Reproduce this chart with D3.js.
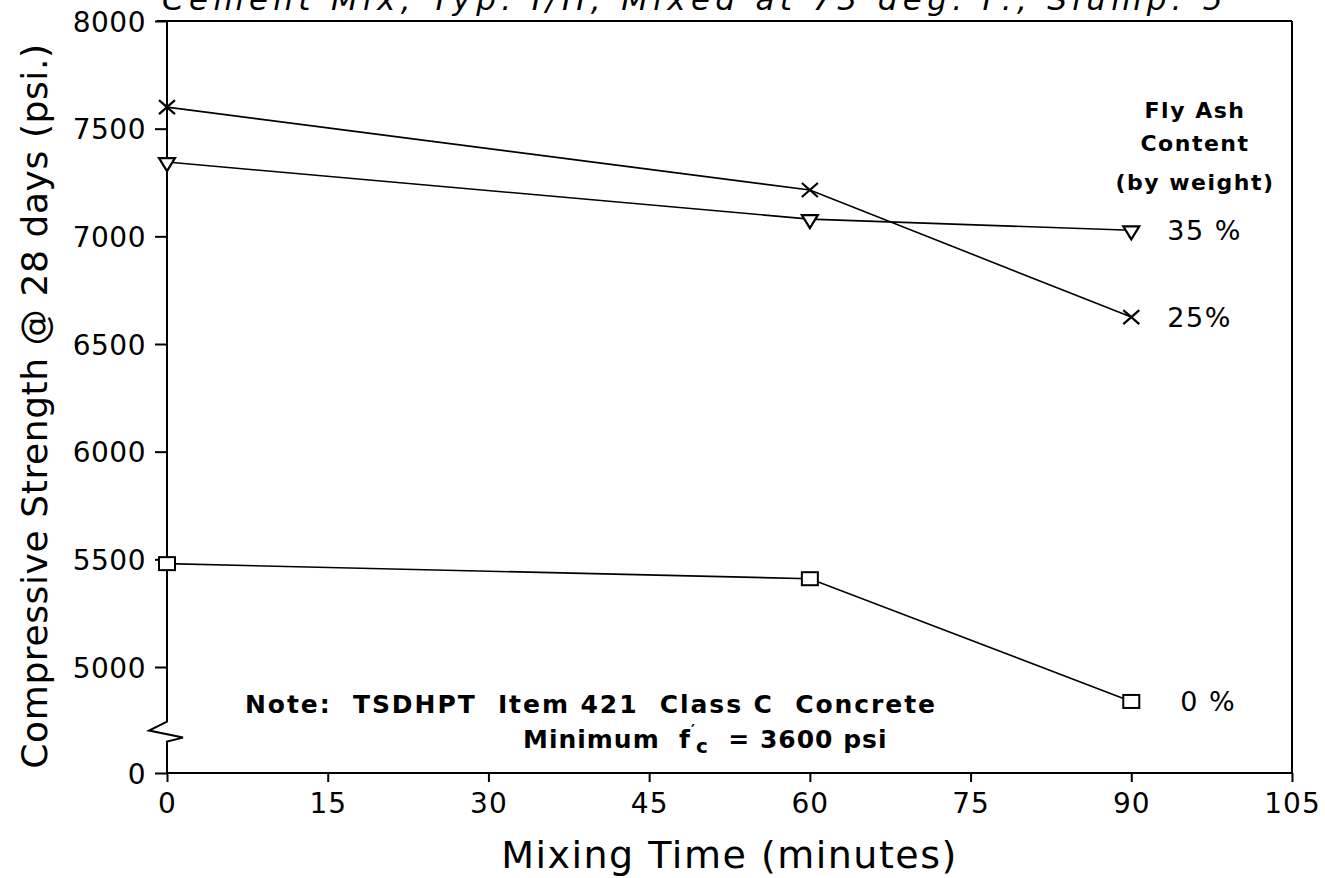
<!DOCTYPE html>
<html>
<head>
<meta charset="utf-8">
<script src="https://cdn.jsdelivr.net/npm/d3@7/dist/d3.min.js"></script>
<style>
  html, body { margin: 0; padding: 0; background: #fff; }
  svg { display: block; }
  text { font-family: "DejaVu Sans", sans-serif; fill: #000; }
</style>
</head>
<body>
<svg id="chart" width="1325" height="878"></svg>
<script>
// ---- data ----
const mixingTime = [0, 60, 90];
const ash0  = [5480, 5410, 4840];
const ash25 = [7600, 7215, 6625];
const ash35 = [7345, 7080, 7028];
const seriesNames = ["0 %", "25%", "35 %"];
const xTicks = [0, 15, 30, 45, 60, 75, 90, 105];
const yTicks = [0, 5000, 5500, 6000, 6500, 7000, 7500, 8000];
const titleText = "Cement Mix, Typ. I/II, Mixed at 73 deg. F., Slump: 5\"";
const xTitle = "Mixing Time (minutes)";
const yTitle = "Compressive Strength @ 28 days (psi.)";
const legendTitle = ["Fly Ash", "Content", "(by weight)"];
const noteLine1 = "Note:  TSDHPT  Item 421  Class C  Concrete";
const yBreak = 4700; // axis is broken between 0 and this value

const svg = d3.select("#chart");
const mLeft = 167, mRight = 1292, mTop = 21, mBottom = 773;

const x = d3.scaleLinear().domain([0, 105]).range([mLeft, mRight]);
const upper = d3.scaleLinear().domain([5000, 8000]).range([667, mTop]);
const y = d3.scaleLinear().domain([0, yBreak, 8000]).range([mBottom, upper(yBreak), mTop]);

// title (cut off at top)
svg.append("text").attr("x", 162).attr("y", 10)
  .attr("font-size", 31).attr("font-style", "italic")
  .attr("textLength", 1080).attr("lengthAdjust", "spacing")
  .text(titleText);

// frame: top and right
svg.append("line").attr("x1", mLeft - 10).attr("x2", mRight).attr("y1", mTop).attr("y2", mTop)
  .attr("stroke", "#000").attr("stroke-width", 2);
svg.append("line").attr("x1", mRight).attr("x2", mRight).attr("y1", mTop).attr("y2", mBottom)
  .attr("stroke", "#000").attr("stroke-width", 2);

// x axis
const xAxis = svg.append("g").attr("transform", `translate(0,${mBottom})`)
  .call(d3.axisBottom(x).tickValues(xTicks).tickSize(9).tickPadding(11).tickFormat(d3.format("d")));
xAxis.select(".domain").attr("stroke-width", 2).attr("d", `M${mLeft},0H${mRight}`);
xAxis.selectAll(".tick line").attr("stroke-width", 2);
xAxis.selectAll(".tick text").attr("font-size", 28).attr("font-family", "DejaVu Sans")
  .attr("letter-spacing", 1);

// y axis
const yAxis = svg.append("g").attr("transform", `translate(${mLeft},0)`)
  .call(d3.axisLeft(y).tickValues(yTicks).tickSize(12).tickPadding(9).tickFormat(d3.format("d")));
yAxis.select(".domain").remove();
yAxis.selectAll(".tick line").attr("stroke-width", 2);
yAxis.selectAll(".tick text").attr("font-size", 28).attr("font-family", "DejaVu Sans")
  .attr("letter-spacing", 0.5).attr("dy", "0.36em");

// y axis line with break zigzag
const yb = y(yBreak);
const axisPath = d3.path();
axisPath.moveTo(0, mTop); axisPath.lineTo(0, yb - 10);
axisPath.lineTo(-18, yb - 1); axisPath.lineTo(16, yb + 6);
axisPath.lineTo(0, yb + 10); axisPath.lineTo(0, mBottom);
yAxis.append("path").attr("d", axisPath.toString()).attr("fill", "none")
  .attr("stroke", "#000").attr("stroke-width", 2);

// axis titles
svg.append("text").attr("x", (mLeft + mRight) / 2).attr("y", 868)
  .attr("text-anchor", "middle").attr("font-size", 38).attr("letter-spacing", 1.5)
  .text(xTitle);
svg.append("text").attr("transform", "translate(47,406) rotate(-90)")
  .attr("text-anchor", "middle").attr("font-size", 36).attr("letter-spacing", 0.6)
  .text(yTitle);

// series
const series = [
  { name: seriesNames[0], vals: ash0, marker: "square" },
  { name: seriesNames[1], vals: ash25, marker: "cross" },
  { name: seriesNames[2], vals: ash35, marker: "tri" }
];
const line = d3.line().x(d => x(d[0])).y(d => y(d[1]));
series.forEach(s => {
  const pts = mixingTime.map((t, i) => [t, s.vals[i]]);
  svg.append("path").attr("d", line(pts)).attr("fill", "none")
    .attr("stroke", "#000").attr("stroke-width", 1.6);
  const g = svg.append("g");
  pts.forEach(p => {
    const px = x(p[0]), py = y(p[1]);
    if (s.marker === "square") {
      g.append("rect").attr("x", px - 8).attr("y", py - 6.5).attr("width", 16).attr("height", 13)
        .attr("fill", "#fff").attr("stroke", "#000").attr("stroke-width", 2);
    } else if (s.marker === "cross") {
      g.append("path").attr("d", `M${px-8},${py-7}L${px+8},${py+7}M${px-8},${py+7}L${px+8},${py-7}`)
        .attr("stroke", "#000").attr("stroke-width", 2.2);
    } else {
      g.append("path").attr("d", `M${px-8},${py-4}L${px+8},${py-4}L${px},${py+9}Z`)
        .attr("fill", "#fff").attr("stroke", "#000").attr("stroke-width", 2.2);
    }
  });
  // end label
  const last = pts[pts.length - 1];
  svg.append("text").attr("x", x(last[0]) + (s.marker === "square" ? 49 : 36)).attr("y", y(last[1]))
    .attr("dy", "0.36em").attr("font-size", 27).attr("letter-spacing", 1.5)
    .text(s.name);
});

// legend title
legendTitle.forEach((t, i) => {
  svg.append("text").attr("x", 1195).attr("y", [118, 151, 190][i])
    .attr("text-anchor", "middle").attr("font-size", 22).attr("font-weight", "bold")
    .attr("letter-spacing", 1.5).text(t);
});

// note
svg.append("text").attr("x", 245).attr("y", 713).attr("font-size", 25).attr("font-weight", "bold")
  .attr("textLength", 690).attr("lengthAdjust", "spacing")
  .style("white-space", "pre").text(noteLine1);
const n2 = svg.append("text").attr("x", 523).attr("y", 748).attr("font-size", 25)
  .attr("font-weight", "bold").attr("letter-spacing", 1).style("white-space", "pre");
n2.append("tspan").text("Minimum  f");
n2.append("tspan").attr("font-size", 15).attr("dy", -12).text("′");
n2.append("tspan").attr("font-size", 20).attr("dy", 17).text("c");
n2.append("tspan").attr("dy", -5).text("  = 3600 psi");
</script>
</body>
</html>
